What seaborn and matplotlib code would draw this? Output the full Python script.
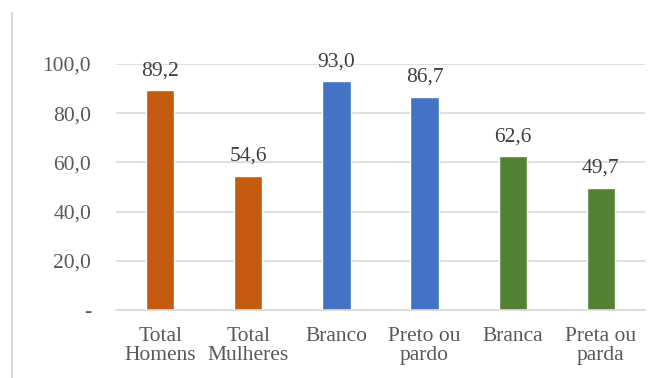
import matplotlib
matplotlib.use("Agg")
import matplotlib.pyplot as plt
import seaborn as sns
import pandas as pd
from matplotlib.lines import Line2D

categories = ["Total\nHomens", "Total\nMulheres", "Branco", "Preto ou\npardo", "Branca", "Preta ou\nparda"]
values = [89.2, 54.6, 93.0, 86.7, 62.6, 49.7]
colors = ["#C55A11", "#C55A11", "#4472C4", "#4472C4", "#548235", "#548235"]
yticks = [0, 20, 40, 60, 80, 100]
ytick_labels = ["-", "20,0", "40,0", "60,0", "80,0", "100,0"]

sns.set_theme(style="white")
plt.rcParams["font.family"] = ["Liberation Serif", "DejaVu Serif"]

df = pd.DataFrame({"cat": categories, "val": values})

fig = plt.figure(figsize=(6.6, 3.78), dpi=100)
ax = fig.add_axes([0.176, 0.180, 0.801, 0.651])
sns.barplot(data=df, x="cat", y="val", hue="cat", palette=colors, dodge=False,
            width=0.32, legend=False, ax=ax, saturation=1)

ax.set_ylim(0, 100)
ax.set_xlim(-0.5, len(categories) - 0.5)
ax.set_yticks(yticks)
ax.set_yticklabels(ytick_labels)
ax.yaxis.grid(True, color="#D9D9D9", linewidth=1.2)
ax.set_axisbelow(True)
for s in ["top", "right", "left"]:
    ax.spines[s].set_visible(False)
ax.spines["bottom"].set_color("#D9D9D9")
ax.spines["bottom"].set_linewidth(1.2)
ax.set_xlabel("")
ax.set_ylabel("")
ax.tick_params(axis="both", length=0, labelsize=15.5, colors="#595959")
ax.tick_params(axis="y", pad=18)
ax.tick_params(axis="x", pad=12)
for lbl in ax.get_xticklabels():
    lbl.set_linespacing(1.0)

for i, v in enumerate(values):
    ax.annotate(f"{v:.1f}".replace(".", ","), (i, v), xytext=(0, 7),
                textcoords="offset points", ha="center", va="bottom",
                fontsize=15.5, color="#404040", annotation_clip=False)

fig.add_artist(Line2D([12 / 660, 12 / 660], [0, 1 - 13 / 378], color="#D9D9D9", linewidth=1.5))

fig.savefig("out.png", dpi=100)
